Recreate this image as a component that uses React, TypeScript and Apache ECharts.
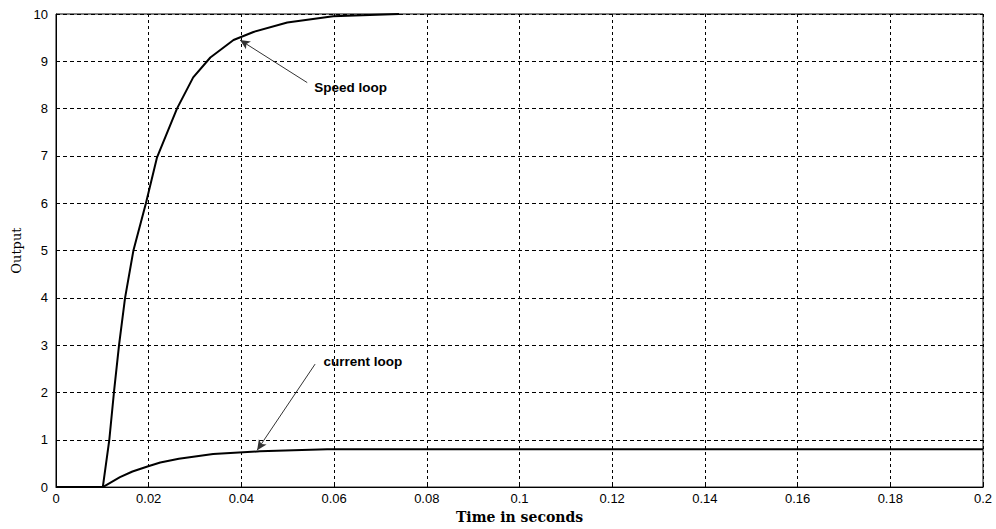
import React, { useEffect, useRef } from "react";
import * as echarts from "echarts";

const speedLoop: [number, number][] = [
  [0, 0], [0.0101, 0], [0.0115, 1], [0.0125, 2], [0.0136, 3], [0.0149, 4],
  [0.0167, 5], [0.0194, 6], [0.0218, 6.97], [0.0261, 8.0], [0.0296, 8.66],
  [0.0333, 9.08], [0.0383, 9.45], [0.0426, 9.62], [0.0499, 9.82],
  [0.0598, 9.95], [0.074, 10],
];

const currentLoop: [number, number][] = [
  [0, 0], [0.0101, 0], [0.0138, 0.21], [0.0165, 0.33], [0.0199, 0.44], [0.0225, 0.52],
  [0.0265, 0.6], [0.0339, 0.7], [0.044, 0.756], [0.0585, 0.8], [0.2, 0.8],
];

const xTicks = [0, 0.02, 0.04, 0.06, 0.08, 0.1, 0.12, 0.14, 0.16, 0.18, 0.2];

const speedArrow = { from: [0.0542, 8.55], to: [0.0397, 9.45], label: "Speed loop", at: [0.0557, 8.45] };
const currentArrow = { from: [0.0559, 2.6], to: [0.0434, 0.78], label: "current loop", at: [0.0577, 2.65] };

export default function App() {
  const ref = useRef<HTMLDivElement>(null);
  useEffect(() => {
    const chart = echarts.init(ref.current!, null, { renderer: "svg" });
    const tickFont = { color: "#000", fontFamily: "Liberation Sans, Arial, sans-serif", fontSize: 13 };
    const annot = (a: any) => ({
      markLine: {
        silent: true,
        symbol: ["none", "arrow"],
        symbolSize: [7, 10],
        lineStyle: { color: "#333", width: 1, type: "solid" },
        label: { show: false },
        data: [[{ coord: a.from }, { coord: a.to }]],
      },
      markPoint: {
        silent: true,
        symbol: "circle",
        symbolSize: 0,
        label: {
          show: true,
          position: "right",
          distance: 0,
          formatter: a.label,
          color: "#000",
          fontWeight: "bold",
          fontSize: 13.5,
          fontFamily: "Liberation Sans, Arial, sans-serif",
        },
        data: [{ coord: a.at }],
      },
    });
    chart.setOption({
      animation: false,
      backgroundColor: "#fff",
      grid: { left: 56, right: 13, top: 14, bottom: 39, show: true, borderColor: "#000", borderWidth: 1 },
      xAxis: {
        type: "value",
        min: 0,
        max: 0.2,
        interval: 0.02,
        name: "Time in seconds",
        nameLocation: "middle",
        nameGap: 22,
        nameTextStyle: { color: "#000", fontFamily: "DejaVu Serif, serif", fontWeight: "bold", fontSize: 14 },
        axisLine: { show: true, lineStyle: { color: "#000" } },
        axisTick: { show: true, inside: true, length: 4, lineStyle: { color: "#000" } },
        axisLabel: { ...tickFont, margin: 5, formatter: (v: number) => {
          const t = xTicks.find((x) => Math.abs(x - v) < 1e-9);
          return t === undefined ? "" : String(+t.toFixed(2));
        } },
        splitLine: { show: true, lineStyle: { color: "#000", type: [3, 3], width: 1 } },
      },
      yAxis: {
        type: "value",
        min: 0,
        max: 10,
        interval: 1,
        name: "Output",
        nameLocation: "middle",
        nameGap: 32,
        nameTextStyle: { color: "#000", fontFamily: "DejaVu Serif, serif", fontSize: 13 },
        axisLine: { show: true, lineStyle: { color: "#000" } },
        axisTick: { show: true, inside: true, length: 4, lineStyle: { color: "#000" } },
        axisLabel: { ...tickFont, margin: 8 },
        splitLine: { show: true, lineStyle: { color: "#000", type: [4, 3], width: 1 } },
      },
      series: [
        {
          name: "Speed loop",
          type: "line",
          data: speedLoop,
          showSymbol: false,
          smooth: false,
          lineStyle: { color: "#000", width: 2 },
          ...annot(speedArrow),
        },
        {
          name: "current loop",
          type: "line",
          data: currentLoop,
          showSymbol: false,
          smooth: false,
          lineStyle: { color: "#000", width: 2 },
          ...annot(currentArrow),
        },
      ],
    });
    return () => chart.dispose();
  }, []);
  return <div ref={ref} style={{ width: 996, height: 529, position: "absolute", left: 0, top: 0 }} />;
}
